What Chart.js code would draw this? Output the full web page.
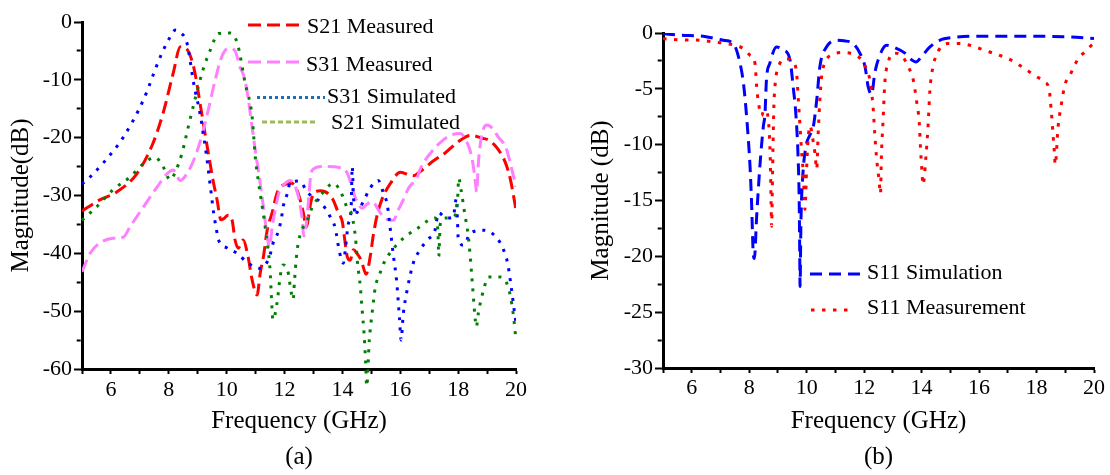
<!DOCTYPE html>
<html>
<head>
<meta charset="utf-8">
<script src="https://cdn.jsdelivr.net/npm/chart.js@4.4.1/dist/chart.umd.min.js"></script>
<style>
  html, body { margin: 0; padding: 0; background: #fff; }
  body { width: 1110px; height: 475px; position: relative; overflow: hidden; }
  canvas { position: absolute; top: 0; }
  #graficoA { left: 0; }
  #graficoB { left: 560px; }
</style>
</head>
<body>
<canvas id="graficoA" width="550" height="475"></canvas>
<canvas id="graficoB" width="550" height="475"></canvas>
<script>
// ---- dados (a) ----
const s21MedFreq = [5.0, 5.6, 6.2, 6.9, 7.45, 7.8, 8.15, 8.4, 8.56, 8.86, 9.1, 9.33, 9.53, 9.67, 9.8, 9.9, 10.05, 10.19, 10.29, 10.4, 10.57, 10.74, 10.88, 11.05, 11.16, 11.27, 11.4, 11.57, 11.74, 11.95, 12.26, 12.47, 12.65, 12.75, 12.9, 13.0, 13.24, 13.65, 13.86, 14.0, 14.07, 14.17, 14.27, 14.38, 14.5, 14.65, 14.82, 14.96, 15.07, 15.2, 15.38, 15.66, 16.0, 16.45, 16.7, 17.15, 17.56, 17.98, 18.43, 18.84, 19.05, 19.35, 19.64, 19.81, 20.0];
const s21MedDb = [-32.7, -30.8, -29.4, -26.2, -21, -15.8, -8.9, -4.3, -4.4, -7.8, -14.7, -21.6, -27.4, -30.8, -34.2, -34, -33.4, -34.3, -37.7, -39.1, -37.7, -40.6, -44.6, -47.2, -43.4, -40.6, -36, -33, -29.6, -28.2, -27.9, -29.6, -33, -35.4, -31.4, -29.6, -29.2, -30.5, -33, -34.6, -37.2, -40.6, -41.2, -39.4, -40, -41.2, -43.6, -40.6, -36.8, -33.4, -30.5, -27.9, -26.0, -26.6, -25.8, -24.0, -22.6, -20.8, -19.6, -20.1, -20.4, -21.8, -24.4, -27.3, -32.5];

const s31MedFreq = [5.0, 5.28, 5.62, 6.07, 6.43, 6.66, 7.12, 7.6, 7.95, 8.15, 8.4, 8.63, 8.86, 9.1, 9.36, 9.6, 9.83, 10.05, 10.28, 10.46, 10.57, 10.7, 10.88, 10.99, 11.16, 11.27, 11.4, 11.48, 11.57, 11.68, 11.8, 12.0, 12.2, 12.47, 12.6, 12.67, 12.78, 12.83, 12.9, 12.96, 13.3, 14.03, 14.2, 14.38, 14.5, 14.69, 14.85, 15.03, 15.31, 15.48, 15.76, 15.93, 16.1, 16.28, 16.59, 16.7, 17.04, 17.39, 17.73, 18.08, 18.32, 18.43, 18.53, 18.6, 18.64, 18.7, 18.77, 18.88, 19.01, 19.19, 19.39, 19.64, 19.78, 19.92, 20.0];
const s31MedDb = [-43.2, -40, -38.2, -37.4, -37.2, -35.4, -32, -28.5, -26.2, -25.6, -27.4, -26.2, -23.9, -20.4, -15.3, -10.1, -6, -4.6, -4.9, -7.8, -9, -11.8, -18.2, -22.2, -27.9, -32, -37, -39, -35.5, -32.5, -29.6, -28, -27.4, -30, -33.7, -37, -33.7, -30.8, -26.8, -25.6, -25, -25.3, -26.5, -29.5, -31, -32.2, -31.5, -31.1, -33, -34, -34.3, -32.5, -30.8, -28.8, -26.8, -25.3, -22.7, -20.8, -19.6, -19.3, -21, -22.5, -25.1, -27.9, -29.4, -24.4, -21, -18.4, -17.8, -18.4, -19.9, -21.6, -23.9, -26.8, -28.5];

const s31SimFreq = [5.0, 5.28, 5.73, 6.43, 7.12, 7.7, 8.0, 8.23, 8.4, 8.63, 8.86, 9.1, 9.3, 9.45, 9.55, 9.65, 9.72, 10.02, 10.36, 10.74, 11.16, 11.48, 11.6, 11.8, 11.9, 11.95, 12.1, 12.2, 12.5, 12.82, 13.27, 13.55, 13.75, 13.9, 14.03, 14.1, 14.2, 14.3, 14.34, 14.38, 14.45, 14.5, 14.72, 14.96, 15.24, 15.42, 15.55, 15.66, 15.76, 15.87, 15.97, 16.03, 16.1, 16.24, 16.45, 16.63, 16.93, 17.2, 17.32, 17.6, 17.83, 17.94, 17.98, 18.0, 18.18, 18.43, 18.88, 19.35, 19.57, 19.71, 19.84, 19.95, 20.0];
const s31SimDb = [-28, -26.8, -24.4, -19.9, -13.5, -6.1, -3, -1.4, -1.8, -3.7, -10.6, -16.4, -23, -29, -33, -36, -37.7, -39.1, -40, -41.7, -42.6, -40.6, -38.3, -36, -33.7, -32, -29.6, -27.7, -27.5, -29.6, -31.3, -33.4, -35.6, -39.8, -41.7, -39.4, -35, -32.5, -25, -30, -33.5, -33, -31.1, -28.7, -27.4, -29.6, -31.6, -36, -40.3, -44.6, -51, -55, -50.7, -46.3, -41.7, -39.8, -37.7, -36, -33, -33.9, -33.7, -30.5, -34.8, -37.2, -38.6, -36.5, -36, -37.4, -39.4, -41.7, -46, -50.3, -52];

const s21SimFreq = [5.0, 5.5, 6.07, 6.66, 7.12, 7.53, 7.8, 8.05, 8.2, 8.45, 8.67, 8.9, 9.18, 9.43, 9.72, 10.12, 10.37, 10.64, 10.88, 10.99, 11.1, 11.3, 11.4, 11.5, 11.54, 11.6, 11.74, 11.85, 11.95, 12.13, 12.2, 12.3, 12.34, 12.4, 12.47, 12.6, 12.78, 12.96, 13.24, 13.7, 14.0, 14.17, 14.3, 14.45, 14.52, 14.62, 14.69, 14.75, 14.8, 14.84, 14.93, 15.03, 15.14, 15.28, 15.45, 15.73, 16.1, 16.59, 16.97, 17.2, 17.3, 17.33, 17.38, 17.55, 17.83, 17.98, 18.02, 18.1, 18.22, 18.36, 18.47, 18.57, 18.63, 18.7, 18.88, 19.05, 19.46, 19.74, 19.9, 20.0];
const s21SimDb = [-34.3, -32, -29, -26.8, -24.5, -23.4, -25, -27.3, -26.2, -22.8, -18.2, -13.5, -8.3, -4.9, -2, -1.9, -3.7, -10.6, -16.4, -23.4, -27.7, -34.3, -38.2, -42.9, -46.9, -51.5, -48.6, -44, -42, -43.4, -45.8, -48, -45.1, -41.2, -38.3, -36, -34.3, -32, -30, -27.9, -30, -32.2, -33, -37.2, -41.5, -45.8, -50.2, -54, -58.5, -63, -55, -50.2, -45.8, -43.7, -41.5, -39.4, -37.4, -35.7, -34.3, -33.9, -36, -40.5, -35, -33.9, -33.7, -30.8, -27, -29, -32.9, -37.4, -43.8, -50.2, -52.7, -50.3, -46.3, -44.1, -44.1, -46, -50.3, -55];

// ---- dados (b) ----
const s11SimFreq = [5.0, 5.59, 6.4, 7.1, 7.45, 7.68, 7.8, 7.91, 8.03, 8.08, 8.14, 8.18, 8.26, 8.37, 8.49, 8.55, 8.6, 8.72, 8.95, 9.18, 9.42, 9.53, 9.63, 9.7, 9.74, 9.76, 9.77, 9.8, 9.86, 9.97, 10.1, 10.23, 10.35, 10.46, 10.69, 11.04, 11.3, 11.62, 11.85, 12.03, 12.14, 12.26, 12.37, 12.49, 12.78, 13.01, 13.42, 13.65, 13.8, 14.0, 14.29, 14.63, 15.1, 15.68, 16.84, 18.0, 19.16, 20.0];
const s11SimDb = [-0.05, -0.2, -0.3, -0.65, -0.95, -2.7, -4.5, -7.5, -12, -15, -19.7, -20.2, -16.4, -12, -8.4, -7.2, -4.2, -2.7, -1.25, -1.5, -2.4, -4.8, -7.5, -11, -15, -20, -22.7, -17, -13, -10.2, -9.2, -8.4, -6, -3, -1.25, -0.65, -0.7, -0.95, -1.8, -3, -4.8, -5.5, -3.6, -2.4, -1.1, -1.25, -1.8, -2.4, -2.6, -2.1, -1.25, -0.65, -0.4, -0.3, -0.3, -0.3, -0.35, -0.5];

const s11MedFreq = [5.0, 5.48, 6.29, 6.75, 7.22, 7.8, 8.03, 8.2, 8.26, 8.31, 8.43, 8.52, 8.63, 8.7, 8.74, 8.76, 8.78, 8.81, 8.83, 8.86, 8.92, 9.07, 9.24, 9.53, 9.65, 9.71, 9.77, 9.82, 9.88, 9.94, 10.0, 10.05, 10.12, 10.2, 10.29, 10.35, 10.4, 10.46, 10.52, 10.63, 10.92, 11.27, 11.62, 11.91, 12.09, 12.2, 12.31, 12.37, 12.43, 12.52, 12.57, 12.6, 12.66, 12.72, 12.84, 13.01, 13.3, 13.53, 13.71, 13.82, 13.92, 13.96, 14.01, 14.05, 14.15, 14.23, 14.29, 14.4, 14.63, 14.92, 15.33, 15.68, 16.03, 16.37, 16.72, 17.01, 17.3, 17.59, 18.0, 18.29, 18.44, 18.52, 18.58, 18.62, 18.65, 18.75, 18.87, 18.98, 19.16, 19.45, 19.68, 19.91, 20.0];
const s11MedDb = [-0.5, -0.6, -0.65, -0.8, -0.95, -1.4, -2.0, -2.7, -4.8, -6, -7.4, -6.9, -7.2, -9, -12, -15, -17.3, -13, -10, -6.5, -4.2, -2.7, -2.3, -2.6, -3.6, -6, -8.4, -10.5, -12.5, -15.8, -12, -9.5, -8.3, -9.3, -10.8, -12.2, -9, -6, -3.9, -2.7, -1.9, -1.75, -1.9, -2.4, -3.3, -4.2, -6.6, -9, -11.1, -13.2, -14.4, -11.1, -7.8, -4.5, -2.6, -1.8, -2.0, -3.0, -4.2, -6, -8.1, -10.2, -12.3, -13.6, -11.1, -8.1, -5.1, -3.0, -1.4, -0.95, -0.95, -1.1, -1.4, -1.7, -2.0, -2.3, -2.7, -3.2, -3.9, -4.4, -5.1, -7.2, -9.3, -10.6, -11.8, -8.4, -6.3, -4.7, -3.8, -2.3, -1.7, -1.1, -0.9];

// rotulos dos eixos
const rotulosX = [6, 8, 10, 12, 14, 16, 18, 20];
const rotulosYA = [0, -10, -20, -30, -40, -50, -60];
const rotulosYB = [0, -5, -10, -15, -20, -25, -30];

function pontos(freq, db) {
    return freq.map((f, i) => ({ x: f, y: db[i] }));
}

Chart.defaults.font.family = '"Liberation Serif", "Times New Roman", serif';
Chart.defaults.color = '#000';

// legenda desenhada a mao (layout escalonado do original)
const legendaManual = {
    id: 'legendaManual',
    afterDraw(chart, args, opts) {
        const ctx = chart.ctx;
        const area = chart.chartArea;
        ctx.save();
        ctx.font = '22px "Liberation Serif"';
        ctx.textBaseline = 'middle';
        ctx.fillStyle = '#000';
        opts.itens.forEach(item => {
            const y = area.top + item.dy;
            ctx.beginPath();
            ctx.setLineDash(item.dash);
            ctx.lineWidth = 3;
            ctx.strokeStyle = item.cor;
            ctx.moveTo(area.left + item.x0, y);
            ctx.lineTo(area.left + item.x1, y);
            ctx.stroke();
            ctx.setLineDash([]);
            ctx.fillText(item.texto, area.left + item.xt, y + item.dyt);
        });
        ctx.restore();
    }
};

function eixoX(letra, altura, pad) {
    return {
        type: 'linear', min: 5, max: 20,
        afterFit(s) { s.height = altura; },
        ticks: {
            stepSize: 1, autoSkip: false, maxRotation: 0, padding: pad, font: { size: 22 },
            callback: v => rotulosX.includes(v) ? String(v) : ''
        },
        grid: { drawOnChartArea: false, drawTicks: true, tickLength: 5, tickWidth: 2, tickColor: '#000' },
        border: { display: true, color: '#000', width: 3 },
        title: {
            display: true, text: ['Frequency (GHz)', letra],
            font: { size: 25, lineHeight: 1.46 }, padding: { top: 0, bottom: -1 }
        }
    };
}

function eixoY(min, passo, rotulos, titulo, largura, padTitulo) {
    return {
        type: 'linear', min: min, max: 0,
        afterFit(s) { s.width = largura; },
        ticks: {
            stepSize: passo, autoSkip: false, padding: 2, font: { size: 22 },
            callback: v => rotulos.includes(v) ? String(v) : ''
        },
        grid: {
            drawOnChartArea: false, drawTicks: true, tickLength: 8, tickWidth: 2, tickColor: '#000',
            tickBorderDash: c => (c.tick && rotulos.includes(c.tick.value)) ? [] : [4, 60],
            tickBorderDashOffset: c => (c.tick && rotulos.includes(c.tick.value)) ? 0 : -2.7
        },
        border: { display: true, color: '#000', width: 3 },
        title: {
            display: true, text: titulo,
            font: { size: 25, lineHeight: 1.2 }, padding: { top: padTitulo, bottom: 0 }
        }
    };
}

function serie(label, freq, db, cor, dash, extra) {
    return Object.assign({
        label: label,
        data: pontos(freq, db),
        borderColor: cor,
        backgroundColor: cor,
        borderWidth: 3,
        borderDash: dash,
        borderCapStyle: 'butt',
        pointRadius: 0,
        fill: false,
        cubicInterpolationMode: 'monotone'
    }, extra || {});
}

const graficoA = new Chart(document.getElementById('graficoA'), {
    type: 'line',
    data: {
        datasets: [
            serie('S21 Simulated', s21SimFreq, s21SimDb, 'rgb(0,128,0)', [3, 7], { clip: false }),
            serie('S31 Simulated', s31SimFreq, s31SimDb, 'rgb(0,0,255)', [3, 7]),
            serie('S31 Measured', s31MedFreq, s31MedDb, 'rgb(255,128,255)', [13, 6]),
            serie('S21 Measured', s21MedFreq, s21MedDb, 'rgb(255,0,0)', [13, 6])
        ]
    },
    options: {
        responsive: false,
        animation: false,
        layout: { padding: { left: 0, right: 34, top: 22, bottom: 0 } },
        scales: {
            x: eixoX('(a)', 106, 3),
            y: eixoY(-60, 5, rotulosYA, 'Magnitude(dB)', 82, 6)
        },
        plugins: {
            legend: { display: false },
            tooltip: { enabled: false },
            legendaManual: {
                itens: [
                    { texto: 'S21 Measured', cor: 'rgb(255,0,0)', dash: [13, 6], x0: 166, x1: 218, dy: 3, xt: 225, dyt: 2 },
                    { texto: 'S31 Measured', cor: 'rgb(255,128,255)', dash: [13, 6], x0: 166, x1: 218, dy: 40, xt: 224, dyt: 3 },
                    { texto: 'S31 Simulated', cor: 'rgb(30,110,190)', dash: [3, 3], x0: 175, x1: 243, dy: 75.5, xt: 245, dyt: 0 },
                    { texto: 'S21 Simulated', cor: 'rgb(155,187,89)', dash: [5, 3], x0: 180, x1: 236, dy: 100, xt: 249, dyt: 1 }
                ]
            }
        }
    },
    plugins: [legendaManual]
});

const graficoB = new Chart(document.getElementById('graficoB'), {
    type: 'line',
    data: {
        datasets: [
            serie('S11 Measurement', s11MedFreq, s11MedDb, 'rgb(255,0,0)', [3.5, 7.5]),
            serie('S11 Simulation', s11SimFreq, s11SimDb, 'rgb(0,0,255)', [12, 7])
        ]
    },
    options: {
        responsive: false,
        animation: false,
        layout: { padding: { left: 0, right: 16, top: 33, bottom: 0 } },
        scales: {
            x: eixoX('(b)', 107, 2),
            y: eixoY(-30, 2.5, rotulosYB, 'Magnitude (dB)', 103, 26)
        },
        plugins: {
            legend: { display: false },
            tooltip: { enabled: false },
            legendaManual: {
                itens: [
                    { texto: 'S11 Simulation', cor: 'rgb(0,0,255)', dash: [12, 7], x0: 147, x1: 197, dy: 241, xt: 204, dyt: -1 },
                    { texto: 'S11 Measurement', cor: 'rgb(255,0,0)', dash: [3.5, 7.5], x0: 148, x1: 189, dy: 277, xt: 204, dyt: -2 }
                ]
            }
        }
    },
    plugins: [legendaManual]
});
</script>
</body>
</html>
